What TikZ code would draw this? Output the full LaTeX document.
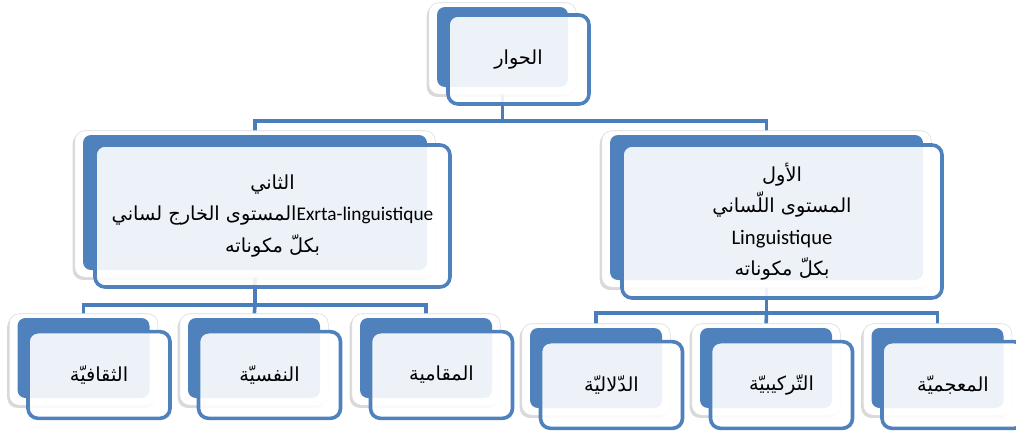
\documentclass[tikz,border=0pt]{standalone}
\usepackage{fontspec}
\setmainfont{Carlito}
\newfontfamily\ar[Script=Arabic,Scale=1.0]{DejaVu Sans}
\TeXXeTstate=1
\usetikzlibrary{calc,shadows}
\definecolor{accent}{HTML}{4F81BD}
\definecolor{linkblue}{HTML}{4A7EBB}
\pgfdeclarelayer{links}
\pgfdeclarelayer{backing}
\pgfsetlayers{links,backing,main}

\begin{document}
\begin{tikzpicture}[x=0.75pt,y=-0.75pt]
\tikzset{
  every node/.style={font=\fontsize{14.5}{23.5}\selectfont,align=center},
  back/.style={fill=accent,rounded corners=6pt,inner sep=0pt},
  front/.style={draw=accent,line width=2.7pt,fill=white,fill opacity=0.9,text opacity=1,rounded corners=7.5pt,inner sep=0pt},
  backing/.style={fill=white,draw=black!15,rounded corners=7.5pt,drop shadow={shadow xshift=-1.5pt,shadow yshift=-2pt,opacity=0.3}},
  link/.style={draw=linkblue,line width=2.7pt},
  small/.style={minimum width=99pt,minimum height=60pt},
  smallfront/.style={minimum width=106.5pt,minimum height=65pt}
}
\useasboundingbox (0,0) rectangle (1016,432);

% top
\node[back,minimum width=98.25pt,minimum height=60pt] (hiwar-b) at (502.5,47) {};
\node[front,minimum width=105.75pt,minimum height=66.75pt] (hiwar) at ($(hiwar-b)+(16,12.5)$) {{\ar\beginR الحوار\endR}};

% second level
\node[back,minimum width=258pt,minimum height=101.25pt] (thani-b) at (255,202.5) {};
\node[front,minimum width=266.25pt,minimum height=106.5pt] (thani) at ($(thani-b)+(17.5,13.5)$)
  {{\ar\beginR الثاني\endR}\\
   {\ar\beginR\beginL{\rmfamily Exrta-linguistique}\endL المستوى الخارج لساني\endR}\\
   {\ar\beginR بكلّ مكوناته\endR}};
\node[back,minimum width=234.75pt,minimum height=108.75pt] (awwal-b) at (766.5,207.5) {};
\node[front,minimum width=240pt,minimum height=114.75pt] (awwal) at ($(awwal-b)+(15.5,14)$)
  {{\ar\beginR الأول\endR}\\
   {\ar\beginR المستوى اللّساني\endR}\\
   {\fontsize{15.5}{23.5}\selectfont Linguistique}\\
   {\ar\beginR بكلّ مكوناته\endR}};

% third level
\node[back,small] (thaqafiya-b) at (83.5,358) {};
\node[front,smallfront] (thaqafiya) at ($(thaqafiya-b)+(15.5,17)$) {{\ar\beginR الثقافيّة\endR}};
\node[back,small] (nafsiya-b) at (254,358) {};
\node[front,smallfront] (nafsiya) at ($(nafsiya-b)+(15.5,17)$) {{\ar\beginR النفسيّة\endR}};
\node[back,small] (maqamiya-b) at (426,358) {};
\node[front,smallfront] (maqamiya) at ($(maqamiya-b)+(15.5,17)$) {{\ar\beginR المقامية\endR}};
\node[back,small] (dalaliya-b) at (596,368) {};
\node[front,smallfront] (dalaliya) at ($(dalaliya-b)+(15.5,17)$) {{\ar\beginR الدّلاليّة\endR}};
\node[back,small] (tarkibiya-b) at (766,368) {};
\node[front,smallfront] (tarkibiya) at ($(tarkibiya-b)+(15.5,17)$) {{\ar\beginR التّركيبيّة\endR}};
\node[back,small] (mujamiya-b) at (937.5,368) {};
\node[front,smallfront] (mujamiya) at ($(mujamiya-b)+(15.5,17)$) {{\ar\beginR المعجميّة\endR}};

% white cards behind the blue ones
\begin{pgfonlayer}{backing}
\foreach \n in {hiwar-b,thani-b,awwal-b,thaqafiya-b,nafsiya-b,maqamiya-b,dalaliya-b,tarkibiya-b,mujamiya-b}
  \draw[backing] ($(\n.north west)+(-8,-4)$) rectangle ($(\n.south east)+(8,7)$);
\end{pgfonlayer}

% connectors
\begin{pgfonlayer}{links}
\coordinate (split1) at (hiwar-b.center |- 0,121);
\coordinate (split2) at (thani-b.center |- 0,305);
\coordinate (split3) at (awwal-b.center |- 0,313);
\draw[link] (hiwar-b.center) -- (split1);
\draw[link] (thani-b.north) |- (split1) -| (awwal-b.north);
\draw[link] (thani-b.center) -- (split2);
\draw[link] (thaqafiya-b.north) |- (split2) -| (maqamiya-b.north);
\draw[link] (split2) -- (nafsiya-b.north);
\draw[link] (awwal-b.center) -- (split3);
\draw[link] (dalaliya-b.north) |- (split3) -| (mujamiya-b.north);
\draw[link] (split3) -- (tarkibiya-b.north);
\end{pgfonlayer}
\end{tikzpicture}
\end{document}
